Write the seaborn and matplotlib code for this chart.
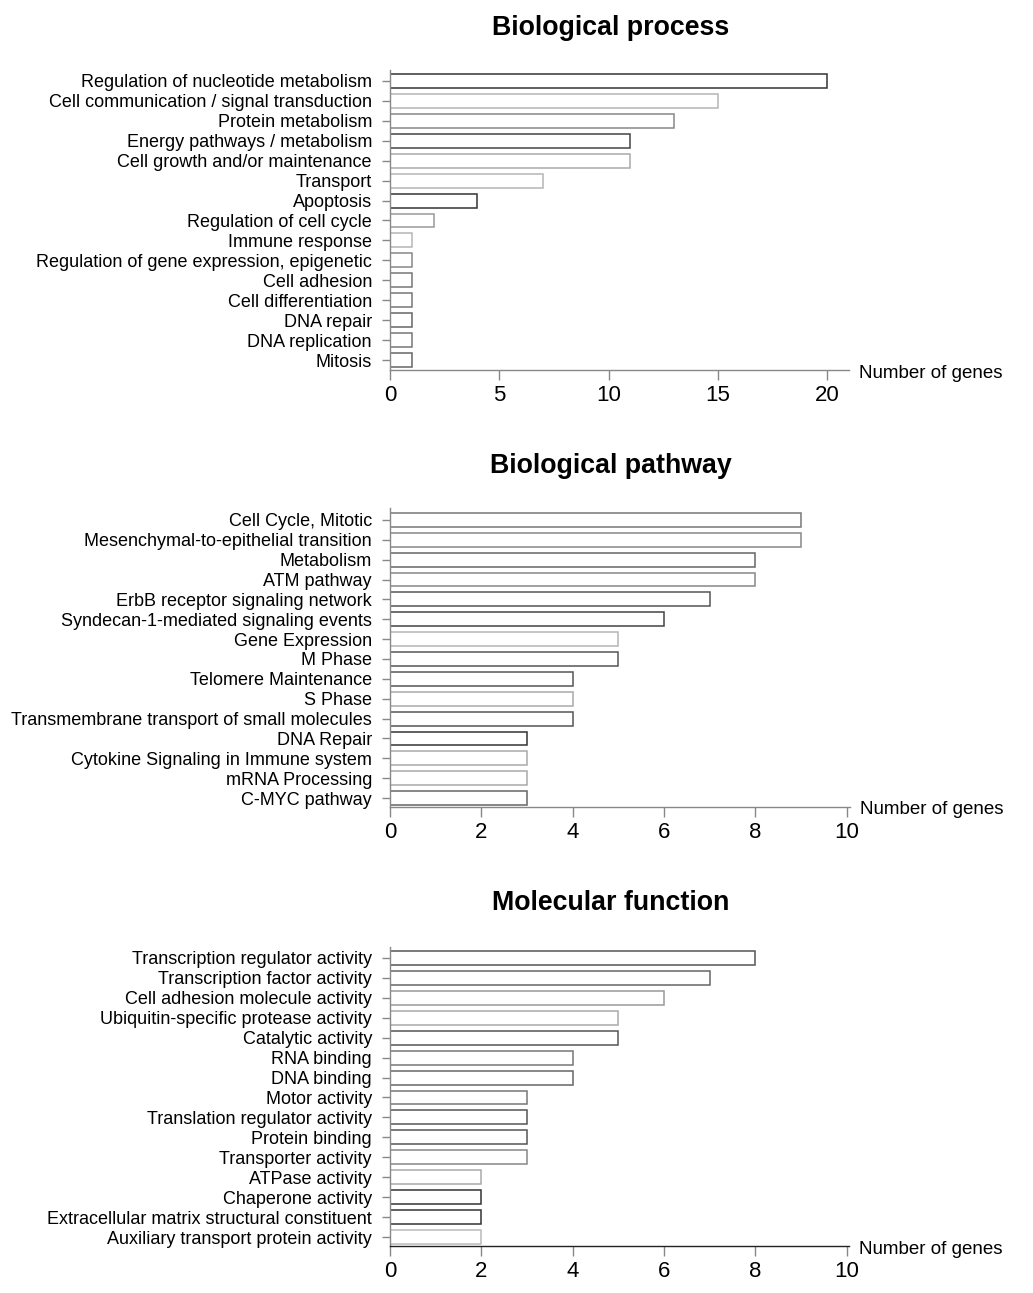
import matplotlib
matplotlib.use("Agg")
import matplotlib.pyplot as plt
import seaborn as sns
import pandas as pd

# Gene ontology enrichment counts
bp_terms = [
    "Regulation of nucleotide metabolism",
    "Cell communication / signal transduction",
    "Protein metabolism",
    "Energy pathways / metabolism",
    "Cell growth and/or maintenance",
    "Transport",
    "Apoptosis",
    "Regulation of cell cycle",
    "Immune response",
    "Regulation of gene expression, epigenetic",
    "Cell adhesion",
    "Cell differentiation",
    "DNA repair",
    "DNA replication",
    "Mitosis",
]
bp_counts = [20, 15, 13, 11, 11, 7, 4, 2, 1, 1, 1, 1, 1, 1, 1]
bp_edges = ["#333333", "#b5b5b5", "#888888", "#444444", "#aaaaaa", "#b5b5b5", "#333333",
            "#999999", "#b5b5b5", "#888888", "#777777", "#777777", "#666666", "#777777", "#666666"]

pw_terms = [
    "Cell Cycle, Mitotic",
    "Mesenchymal-to-epithelial transition",
    "Metabolism",
    "ATM pathway",
    "ErbB receptor signaling network",
    "Syndecan-1-mediated signaling events",
    "Gene Expression",
    "M Phase",
    "Telomere Maintenance",
    "S Phase",
    "Transmembrane transport of small molecules",
    "DNA Repair",
    "Cytokine Signaling in Immune system",
    "mRNA Processing",
    "C-MYC pathway",
]
pw_counts = [9, 9, 8, 8, 7, 6, 5, 5, 4, 4, 4, 3, 3, 3, 3]
pw_edges = ["#777777", "#888888", "#666666", "#888888", "#555555", "#444444", "#b5b5b5",
            "#555555", "#555555", "#aaaaaa", "#555555", "#333333", "#aaaaaa", "#aaaaaa", "#666666"]

mf_terms = [
    "Transcription regulator activity",
    "Transcription factor activity",
    "Cell adhesion molecule activity",
    "Ubiquitin-specific protease activity",
    "Catalytic activity",
    "RNA binding",
    "DNA binding",
    "Motor activity",
    "Translation regulator activity",
    "Protein binding",
    "Transporter activity",
    "ATPase activity",
    "Chaperone activity",
    "Extracellular matrix structural constituent",
    "Auxiliary transport protein activity",
]
mf_counts = [8, 7, 6, 5, 5, 4, 4, 3, 3, 3, 3, 2, 2, 2, 2]
mf_edges = ["#555555", "#666666", "#999999", "#aaaaaa", "#555555", "#777777", "#666666",
            "#777777", "#555555", "#555555", "#888888", "#aaaaaa", "#333333", "#333333", "#bbbbbb"]

x_ticks_bp = [0, 5, 10, 15, 20]
x_ticks_10 = [0, 2, 4, 6, 8, 10]

sns.set_theme(style="ticks")
plt.rcParams["font.family"] = ["Liberation Sans", "DejaVu Sans"]

W, H = 1033, 1293
fig = plt.figure(figsize=(W / 100, H / 100), dpi=100)


def panel(terms, counts, edges, title, ticks, xmax, box, ytop, ybot, bottom_color, title_y):
    left, top, right, bottom = box
    ax = fig.add_axes([left / W, 1 - bottom / H, (right - left) / W, (bottom - top) / H])
    df = pd.DataFrame({"term": terms, "count": counts})
    sns.barplot(data=df, x="count", y="term", orient="h", color="white",
                width=0.7, linewidth=1.1, edgecolor="#555555", ax=ax)
    for patch, ec in zip(ax.patches, edges):
        patch.set_facecolor("white")
        patch.set_edgecolor(ec)
    ax.set_xlim(0, xmax)
    ax.set_ylim(ybot, ytop)
    ax.set_xticks(ticks)
    ax.set_xlabel("")
    ax.set_ylabel("")
    for s in ["top", "right"]:
        ax.spines[s].set_visible(False)
    ax.spines["left"].set_color("#888888")
    ax.spines["bottom"].set_color(bottom_color)
    ax.spines["left"].set_linewidth(1.0)
    ax.spines["bottom"].set_linewidth(1.0)
    ax.tick_params(axis="y", length=6, width=1.0, color="#888888", pad=7,
                   labelsize=13.0, labelcolor="black")
    ax.tick_params(axis="x", length=7, width=1.0, color="#888888", pad=4,
                   labelsize=16, labelcolor="black")
    ax.text(1.0 + 10 / (right - left), 0.0 - 3 / (bottom - top), "Number of genes",
            transform=ax.transAxes, ha="left", va="center", fontsize=13.5, color="black")
    fig.text(611 / W, 1 - (title_y + 1) / H, title, ha="center", va="center",
             fontsize=19.3, fontweight="bold", color="black")
    return ax


panel(bp_terms, bp_counts, bp_edges, "Biological process", x_ticks_bp, 21.0,
      (390, 70, 849, 370), -0.55, 14.5, "#888888", 27)
panel(pw_terms, pw_counts, pw_edges, "Biological pathway", x_ticks_10, 10.07,
      (390, 508, 850, 807), -0.6, 14.45, "#888888", 465)
panel(mf_terms, mf_counts, mf_edges, "Molecular function", x_ticks_10, 10.05,
      (390, 947, 849, 1246), -0.55, 14.45, "#222222", 902)

fig.savefig("out.png", dpi=100, facecolor="white")
